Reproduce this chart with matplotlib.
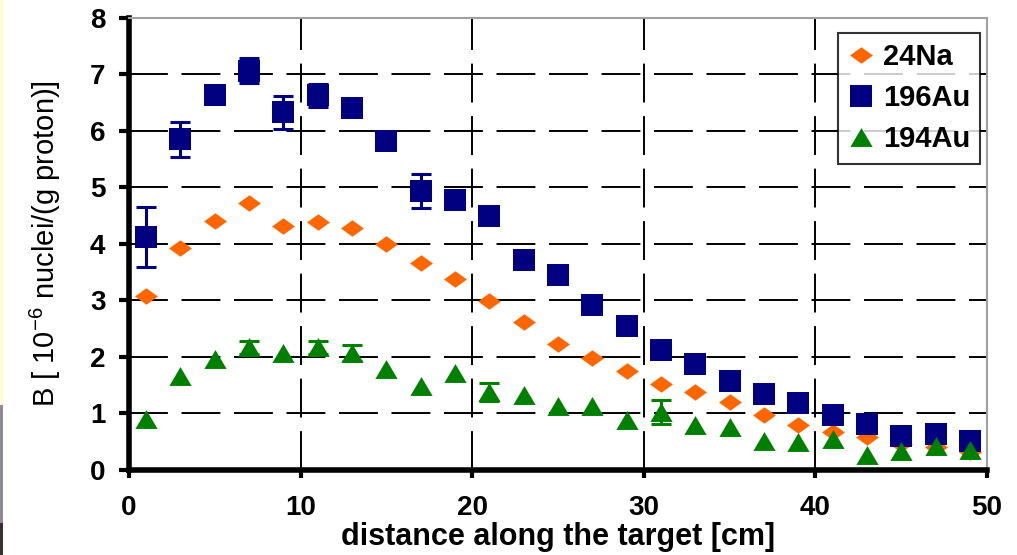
import numpy as np
import matplotlib
matplotlib.use('Agg')
import matplotlib.pyplot as plt
import matplotlib.patches as patches

plt.rcParams['font.family'] = ['Liberation Sans', 'DejaVu Sans']
plt.rcParams['mathtext.default'] = 'regular'

# Data
x = [1, 3, 5, 7, 9, 11, 13, 15, 17, 19, 21, 23, 25, 27, 29, 31, 33, 35, 37, 39, 41, 43, 45, 47, 49]

na24 = [3.08, 3.93, 4.40, 4.72, 4.32, 4.39, 4.28, 4.00, 3.66, 3.38, 2.99, 2.62, 2.23, 1.98, 1.75,
        1.52, 1.38, 1.20, 0.97, 0.80, 0.68, 0.58, 0.46, 0.41, 0.32]

au196 = [4.13, 5.85, 6.63, 7.07, 6.33, 6.63, 6.40, 5.82, 4.93, 4.78, 4.49, 3.72, 3.45, 2.92, 2.55,
         2.13, 1.87, 1.57, 1.35, 1.18, 0.97, 0.81, 0.60, 0.64, 0.51]
au196_err = [0.53, 0.31, 0, 0.22, 0.29, 0.21, 0, 0, 0.30, 0, 0, 0, 0, 0, 0,
             0, 0, 0, 0, 0, 0, 0, 0, 0, 0]

au194 = [0.90, 1.66, 1.97, 2.17, 2.07, 2.17, 2.07, 1.79, 1.48, 1.72, 1.38, 1.33, 1.13, 1.14, 0.88,
         1.03, 0.79, 0.76, 0.51, 0.49, 0.55, 0.27, 0.34, 0.42, 0.35]
au194_err = [0, 0, 0, 0.12, 0, 0.11, 0.15, 0, 0, 0, 0.16, 0, 0, 0, 0,
             0.21, 0, 0, 0, 0, 0, 0, 0, 0, 0]

fig = plt.figure(figsize=(10.17, 5.55), dpi=100)
ax = fig.add_axes([0.1268, 0.1532, 0.8437, 0.8144])

# odd little strip on the left edge of the original
fig.patches.append(patches.Rectangle((0, 0.27), 0.003, 0.73, transform=fig.transFigure,
                                     facecolor='#fffbd0', edgecolor='none'))
fig.patches.append(patches.Rectangle((0, 0.058), 0.003, 0.212, transform=fig.transFigure,
                                     facecolor='#8e8a94', edgecolor='none'))
fig.patches.append(patches.Rectangle((0, 0.0), 0.003, 0.058, transform=fig.transFigure,
                                     facecolor='#3a3030', edgecolor='none'))

diamond = [(-1, 0), (0, -0.72), (1, 0), (0, 0.72), (-1, 0)]
triangle = [(0, 0.85), (-1, -0.85), (1, -0.85), (0, 0.85)]

orange = '#ff6600'
navy = '#000080'
green = '#008000'

# error bars only where the original has them
def with_err(xs, ys, errs):
    xe = [a for a, e in zip(xs, errs) if e > 0]
    ye = [b for b, e in zip(ys, errs) if e > 0]
    ee = [e for e in errs if e > 0]
    return xe, ye, ee

xe, ye, ee = with_err(x, au196, au196_err)
ax.errorbar(xe, ye, yerr=ee, fmt='none', ecolor=navy, elinewidth=2.2, capsize=7, capthick=2.2, zorder=3)
xe, ye, ee = with_err(x, au194, au194_err)
ax.errorbar(xe, ye, yerr=ee, fmt='none', ecolor=green, elinewidth=2.2, capsize=7, capthick=2.2, zorder=3)

ax.plot(x, na24, linestyle='none', marker=diamond, markersize=16.5, color=orange,
        markeredgewidth=0, label='24Na', zorder=4)
ax.plot(x, au196, linestyle='none', marker='s', markersize=15.5, color=navy,
        markeredgewidth=0, label='196Au', zorder=5)
ax.plot(x, au194, linestyle='none', marker=triangle, markersize=16, color=green,
        markeredgewidth=0, label='194Au', zorder=6)

ax.set_xlim(0, 50)
ax.set_ylim(0, 8)
ax.set_xticks([0, 10, 20, 30, 40, 50])
ax.set_yticks(range(0, 9))

ax.grid(True, color='black', linestyle=(0, (20, 7)), linewidth=1.4)
ax.set_axisbelow(True)

for s in ['left', 'bottom']:
    ax.spines[s].set_linewidth(4)
    ax.spines[s].set_color('black')
for s in ['top', 'right']:
    ax.spines[s].set_linewidth(1.5)
    ax.spines[s].set_color('#a0a0a0')

ax.tick_params(axis='x', direction='out', length=6, width=3, labelsize=20, pad=12)
ax.tick_params(axis='y', direction='out', length=7, width=3, labelsize=20, pad=10)
for lab in ax.get_xticklabels() + ax.get_yticklabels():
    lab.set_fontweight('bold')

ax.set_xlabel('distance along the target [cm]', fontsize=22, fontweight='bold', labelpad=1)
ax.set_ylabel(r'B [ 10$^{-6}$ nuclei/(g proton)]', fontsize=21, labelpad=19)

leg = ax.legend(loc='upper left', bbox_to_anchor=(0.826, 0.967), frameon=True, fancybox=False,
                fontsize=21, handlelength=0.9, handletextpad=0.3, borderpad=0.35,
                labelspacing=0.45, borderaxespad=0)
leg.get_frame().set_edgecolor('black')
leg.get_frame().set_linewidth(1.5)
for t in leg.get_texts():
    t.set_fontweight('bold')

fig.savefig('out.png', dpi=100)
